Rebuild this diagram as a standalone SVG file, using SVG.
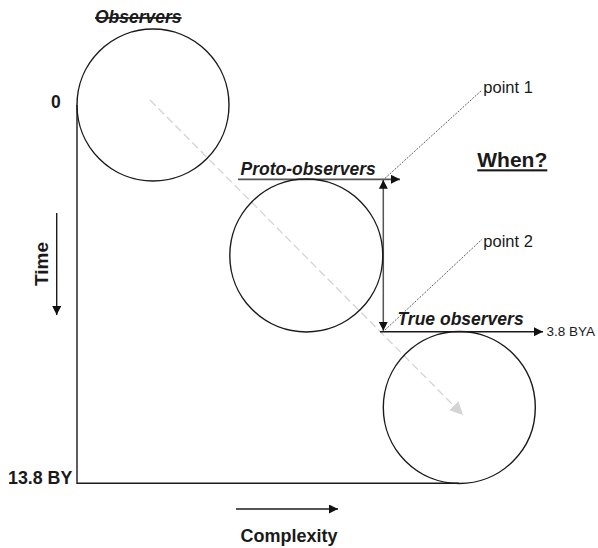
<svg xmlns="http://www.w3.org/2000/svg" width="598" height="548" viewBox="0 0 598 548">
<style>
text{font-family:"Liberation Sans",Arial,sans-serif;fill:#1a1a1a}
.lbl{font-weight:bold;font-style:italic;font-size:17.5px}
.b{font-weight:bold}
.pt{font-size:16.5px}
.circ{fill:none;stroke:#1a1a1a;stroke-width:1.4}
.ax{stroke:#1a1a1a;stroke-width:1.4;fill:none}
.gr{stroke:#555;stroke-width:1.8;fill:none}
.dot{stroke:#222;stroke-width:1;stroke-dasharray:1 1.3;fill:none}
</style>
<defs>
<marker id="ah" viewBox="0 0 10 10" refX="10" refY="5" markerWidth="9" markerHeight="9" markerUnits="userSpaceOnUse" orient="auto-start-reverse"><path d="M0,0 L10,5 L0,10 z" fill="#111"/></marker>
<marker id="ahg" viewBox="0 0 10 10" refX="10" refY="5" markerWidth="13" markerHeight="13" markerUnits="userSpaceOnUse" orient="auto"><path d="M0,0 L10,5 L0,10 z" fill="#d4d4d4"/></marker>
</defs>
<g id="connectors">
<line x1="150" y1="100" x2="463" y2="415" stroke="#d4d4d4" stroke-width="1.3" stroke-dasharray="8 4" marker-end="url(#ahg)"/>
<polyline class="ax" points="77,105 77,483.3 459,483.3"/>
<line x1="56.7" y1="213" x2="56.7" y2="315" stroke="#1a1a1a" stroke-width="1.4" marker-end="url(#ah)"/>
<line x1="236" y1="509" x2="338" y2="509" class="gr" marker-end="url(#ah)"/>
<line x1="238" y1="179.3" x2="400" y2="179.3" class="gr" marker-end="url(#ah)"/>
<line x1="383.3" y1="179.8" x2="383.3" y2="330.8" stroke="#555" stroke-width="1.5" marker-start="url(#ah)" marker-end="url(#ah)"/>
<line x1="380" y1="331.7" x2="543" y2="331.7" stroke="#1a1a1a" stroke-width="1.4" marker-end="url(#ah)"/>
<line class="dot" x1="385" y1="178.3" x2="482" y2="90"/>
<line class="dot" x1="385" y1="330" x2="482" y2="239.3"/>
</g>
<g id="observers">
<circle class="circ" cx="153" cy="105" r="76"/>
<text class="lbl" x="95" y="23.3" style="text-decoration:line-through">Observers</text>
</g>
<g id="proto-observers">
<circle class="circ" cx="306.3" cy="255.5" r="76.5"/>
<text class="lbl" x="240.5" y="175">Proto-observers</text>
</g>
<g id="true-observers">
<circle class="circ" cx="459.3" cy="407.5" r="76"/>
<text class="lbl" x="397.5" y="325">True observers</text>
</g>
<g id="labels">
<text class="b" x="51" y="107.7" font-size="17.5">0</text>
<text class="b" x="8" y="484" font-size="17.8">13.8 BY</text>
<text class="b" x="48" y="264" font-size="19" text-anchor="middle" transform="rotate(-90 48 264)">Time</text>
<text class="b" x="289" y="541.7" font-size="18" text-anchor="middle">Complexity</text>
<text x="546.5" y="336.3" font-size="13.5">3.8 BYA</text>
<text class="pt" x="483.3" y="93.3">point 1</text>
<text class="pt" x="483.3" y="247">point 2</text>
<text class="b" x="477.3" y="167.3" font-size="21" style="text-decoration:underline">When?</text>
</g>
</svg>
